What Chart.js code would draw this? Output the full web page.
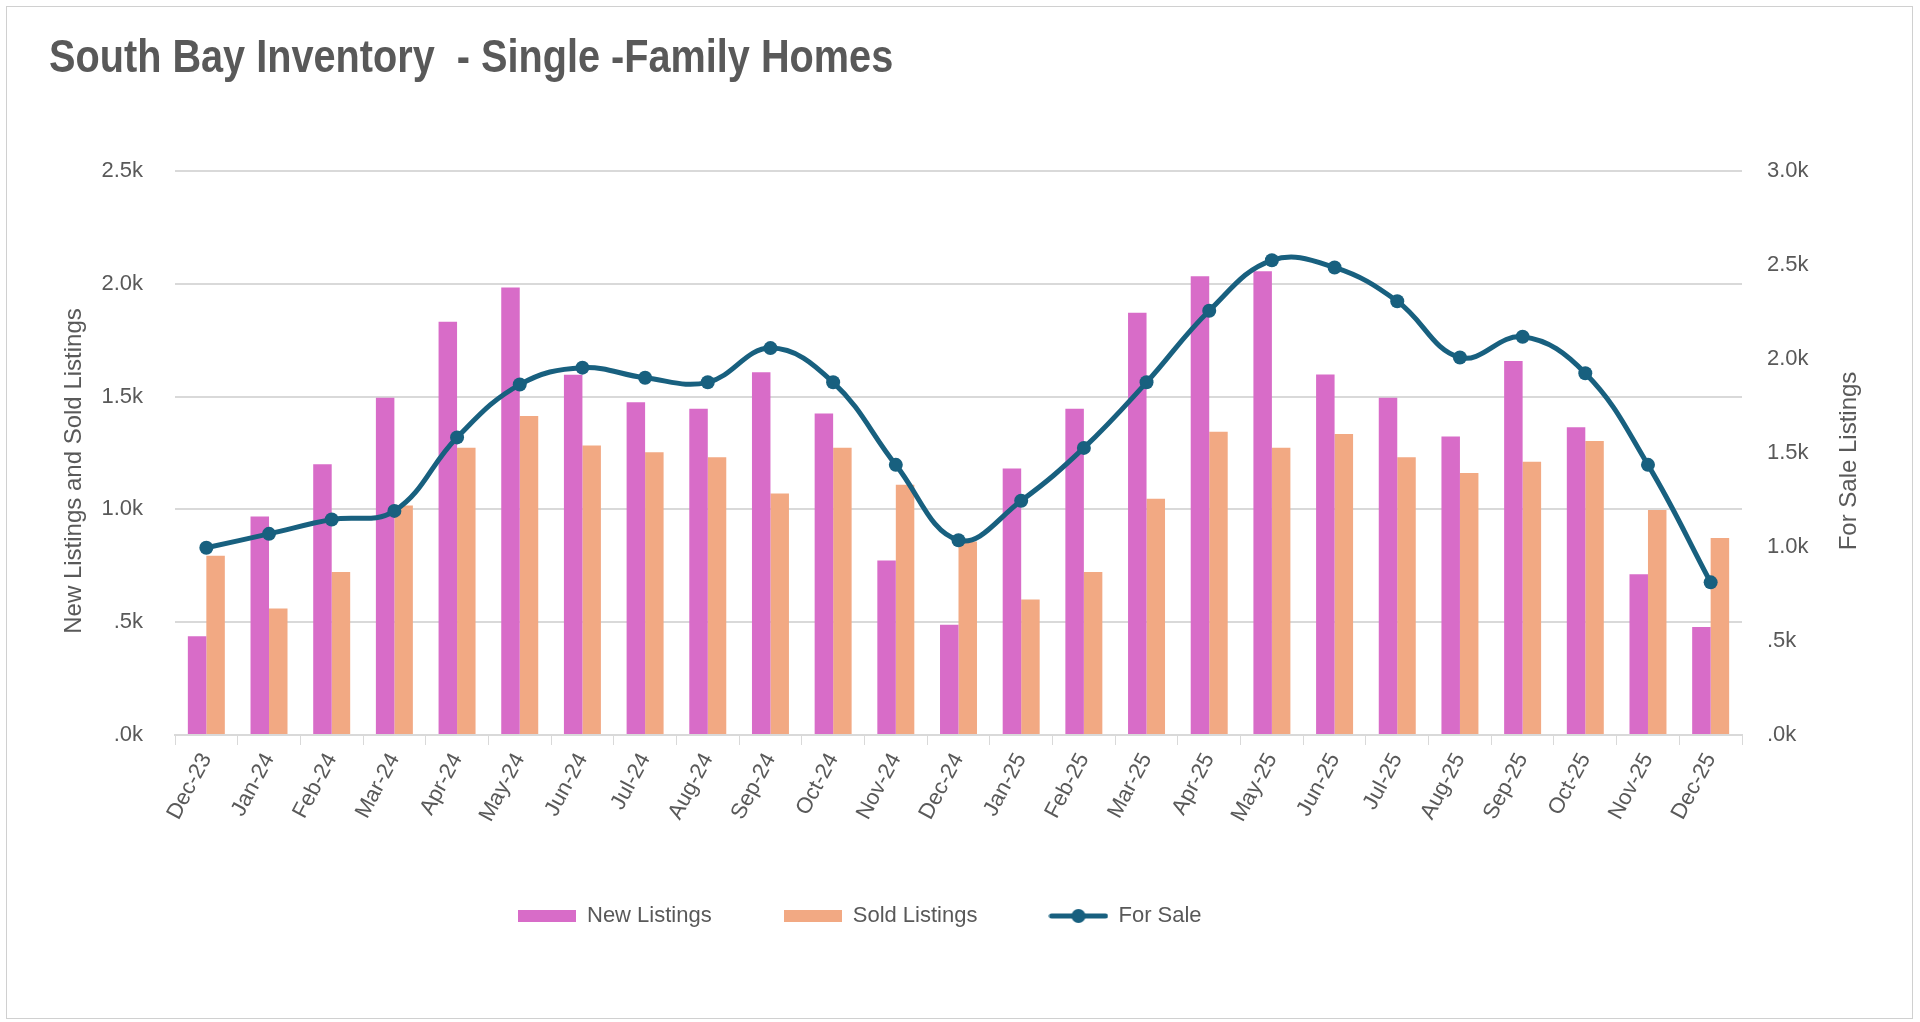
<!DOCTYPE html>
<html>
<head>
<meta charset="utf-8">
<script src="https://cdn.jsdelivr.net/npm/chart.js@4.4.1/dist/chart.umd.min.js"></script>
<style>
    html, body { margin: 0; padding: 0; background: #ffffff; }
    #wrap { position: relative; width: 1920px; height: 1022px; }
    #frame {
        position: absolute; left: 6px; top: 6px; width: 1905px; height: 1011px;
        border: 1px solid #d0d0d0; pointer-events: none;
    }
    canvas { position: absolute; left: 0; top: 0; }
</style>
</head>
<body>
<div id="wrap">
    <canvas id="inventory-chart" width="1920" height="1022"></canvas>
    <div id="frame"></div>
</div>
<script>
const months = ['Dec-23', 'Jan-24', 'Feb-24', 'Mar-24', 'Apr-24', 'May-24', 'Jun-24', 'Jul-24', 'Aug-24',
    'Sep-24', 'Oct-24', 'Nov-24', 'Dec-24', 'Jan-25', 'Feb-25', 'Mar-25', 'Apr-25', 'May-25', 'Jun-25',
    'Jul-25', 'Aug-25', 'Sep-25', 'Oct-25', 'Nov-25', 'Dec-25'];
const newListings = [438, 969, 1200, 1495, 1832, 1984, 1597, 1475, 1446, 1608, 1425, 773, 489,
    1181, 1446, 1872, 2034, 2056, 1598, 1495, 1323, 1658, 1364, 713, 479];
const soldListings = [795, 561, 723, 1017, 1273, 1414, 1283, 1253, 1231, 1070, 1273, 1109, 858,
    601, 723, 1047, 1344, 1273, 1334, 1231, 1161, 1211, 1303, 997, 873];
const forSale = [996, 1070, 1146, 1192, 1583, 1864, 1954, 1900, 1876, 2058, 1876, 1437, 1036,
    1246, 1527, 1876, 2257, 2525, 2487, 2307, 2008, 2118, 1924, 1437, 812];
const leftTicks = [0, 500, 1000, 1500, 2000, 2500];
const rightTicks = [0, 500, 1000, 1500, 2000, 2500, 3000];

const chartTitle = 'South Bay Inventory  - Single -Family Homes';
const leftTitle = 'New Listings and Sold Listings';
const rightTitle = 'For Sale Listings';

const FONT = "'Liberation Sans', Arial, sans-serif";
const TEXT = '#595959';
const PINK = '#d86cc8';
const SALMON = '#f2a983';
const BLUE = '#18607f';

function kLabel(v) {
    // 500 -> ".5k", 0 -> ".0k", 1500 -> "1.5k"
    return (v / 1000).toFixed(1).replace(/^0/, '') + 'k';
}

function boxIcon(color) {
    const c = document.createElement('canvas');
    c.width = 58; c.height = 14;
    const g = c.getContext('2d');
    g.fillStyle = color;
    g.fillRect(0, 1, 58, 12);
    return c;
}

function lineIcon(color) {
    const c = document.createElement('canvas');
    c.width = 60; c.height = 16;
    const g = c.getContext('2d');
    g.strokeStyle = color;
    g.lineWidth = 5;
    g.lineCap = 'round';
    g.beginPath(); g.moveTo(3, 8); g.lineTo(57, 8); g.stroke();
    g.fillStyle = color;
    g.beginPath(); g.arc(30, 8, 7, 0, Math.PI * 2); g.fill();
    return c;
}

const legendIcons = [boxIcon(PINK), boxIcon(SALMON), lineIcon(BLUE)];

function drawText(ctx, text, x, y, font, rotate, squeeze) {
    ctx.save();
    ctx.translate(x, y);
    if (rotate) ctx.rotate(rotate);
    if (squeeze) ctx.scale(squeeze, 1);
    ctx.font = font;
    ctx.fillStyle = TEXT;
    ctx.textAlign = squeeze ? 'left' : 'center';
    ctx.textBaseline = squeeze ? 'alphabetic' : 'middle';
    ctx.fillText(text, 0, 0);
    ctx.restore();
}

// title (condensed like the original), axis titles, and legend placement
const decorations = {
    id: 'decorations',
    afterLayout(chart) {
        const lg = chart.legend;
        const pad = lg.options.labels.padding;
        lg.left = 518 - pad;
        lg.top = 916 - pad - lg.options.labels.font.size / 2;
    },
    afterDraw(chart) {
        const ctx = chart.ctx;
        const area = chart.chartArea;
        const mid = (area.top + area.bottom) / 2;
        drawText(ctx, chartTitle, 49, 72, 'bold 47px ' + FONT, 0, 0.844);
        drawText(ctx, leftTitle, chart.scales.y.left + 25, mid + 18, '24px ' + FONT, -Math.PI / 2);
        drawText(ctx, rightTitle, chart.scales.y1.left + 107, mid + 8, '24px ' + FONT, -Math.PI / 2);
    }
};

document.addEventListener('DOMContentLoaded', function () {
    const ctx = document.getElementById('inventory-chart').getContext('2d');
    new Chart(ctx, {
        data: {
            labels: months,
            datasets: [{
                type: 'bar',
                label: 'New Listings',
                data: newListings,
                backgroundColor: PINK,
                yAxisID: 'y',
                order: 1
            }, {
                type: 'bar',
                label: 'Sold Listings',
                data: soldListings,
                backgroundColor: SALMON,
                yAxisID: 'y',
                order: 2
            }, {
                type: 'line',
                label: 'For Sale',
                data: forSale,
                borderColor: BLUE,
                backgroundColor: BLUE,
                borderWidth: 5,
                pointRadius: 7,
                pointBackgroundColor: BLUE,
                pointBorderWidth: 0,
                tension: 0.4,
                yAxisID: 'y1',
                order: 0
            }]
        },
        options: {
            responsive: false,
            animation: false,
            devicePixelRatio: 1,
            layout: { padding: { left: 49, right: 40, top: 171, bottom: 0 } },
            datasets: {
                bar: { barPercentage: 1, categoryPercentage: 0.59 }
            },
            scales: {
                x: {
                    grid: {
                        offset: true,
                        drawOnChartArea: false,
                        color: '#d9d9d9',
                        tickLength: 10
                    },
                    border: { color: '#d9d9d9', width: 2 },
                    ticks: {
                        color: TEXT,
                        font: { family: FONT, size: 22 },
                        minRotation: 62,
                        maxRotation: 62,
                        autoSkip: false,
                        padding: 4
                    },
                    afterFit(scale) { scale.height = 183; }
                },
                y: {
                    position: 'left',
                    min: 0,
                    max: 2500,
                    afterBuildTicks(scale) { scale.ticks = leftTicks.map(v => ({ value: v })); },
                    grid: { color: '#d9d9d9', lineWidth: 2, drawTicks: false },
                    border: { display: false },
                    ticks: {
                        color: TEXT,
                        font: { family: FONT, size: 22 },
                        padding: 32,
                        callback: v => kLabel(v)
                    },
                    afterFit(scale) { scale.width = 126; }
                },
                y1: {
                    position: 'right',
                    min: 0,
                    max: 3000,
                    afterBuildTicks(scale) { scale.ticks = rightTicks.map(v => ({ value: v })); },
                    grid: { display: false },
                    border: { display: false },
                    ticks: {
                        color: TEXT,
                        font: { family: FONT, size: 22 },
                        padding: 17,
                        callback: v => kLabel(v)
                    },
                    afterFit(scale) { scale.width = 138; }
                }
            },
            plugins: {
                title: { display: false },
                legend: {
                    position: 'bottom',
                    align: 'start',
                    labels: {
                        usePointStyle: true,
                        pointStyleWidth: 58,
                        color: TEXT,
                        font: { family: FONT, size: 22 },
                        padding: 72,
                        sort: (a, b) => a.datasetIndex - b.datasetIndex,
                        generateLabels(chart) {
                            const items = Chart.defaults.plugins.legend.labels.generateLabels(chart);
                            items.forEach(item => { item.pointStyle = legendIcons[item.datasetIndex]; });
                            return items;
                        }
                    }
                },
                tooltip: { enabled: false }
            }
        },
        plugins: [decorations]
    });
});
</script>
</body>
</html>
